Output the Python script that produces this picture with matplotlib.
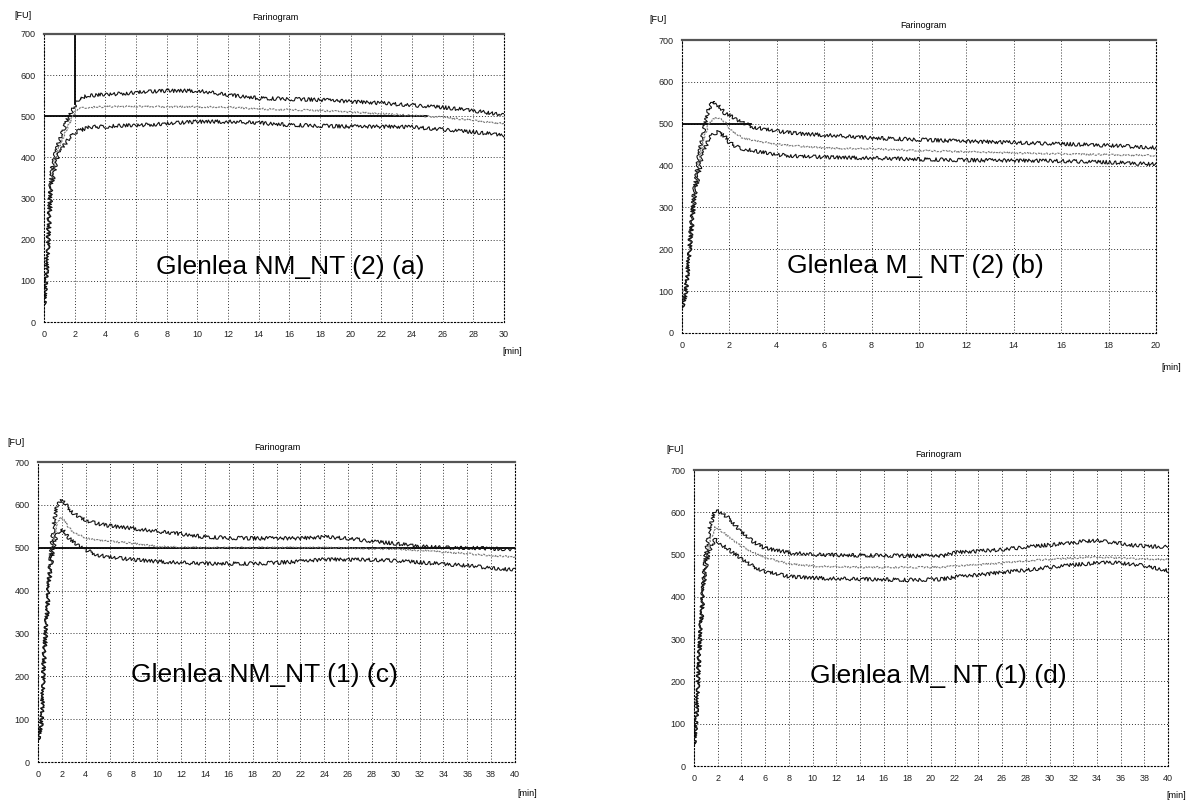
import matplotlib
matplotlib.use("Agg")
import matplotlib.pyplot as plt

# ---------------- data ----------------
# Panel (a) Glenlea NM_NT (2)
t_a = [0, 0.2, 0.35, 0.5, 0.75, 1, 1.5, 2, 2.3, 3, 4, 5, 6, 8, 10, 12, 14, 16, 18, 20, 22, 24, 26, 28, 30]
up_a = [40, 150, 280, 370, 410, 440, 490, 525, 545, 550, 553, 555, 558, 562, 562, 552, 544, 542, 540, 536, 532, 527, 522, 514, 502]
mid_a = [40, 140, 260, 350, 395, 425, 470, 510, 520, 522, 523, 524, 524, 523, 523, 522, 518, 516, 514, 510, 506, 502, 498, 490, 482]
low_a = [40, 130, 240, 330, 380, 410, 440, 460, 465, 474, 475, 477, 478, 482, 487, 487, 484, 479, 477, 475, 475, 474, 468, 462, 454]

# Panel (b) Glenlea M_ NT (2)
t_b = [0, 0.15, 0.3, 0.5, 0.7, 0.9, 1.1, 1.3, 1.5, 1.8, 2, 2.3, 2.6, 3, 4, 5, 6, 8, 10, 12, 14, 16, 18, 20]
up_b = [60, 100, 200, 330, 420, 480, 530, 555, 545, 525, 520, 510, 502, 492, 482, 476, 473, 466, 462, 458, 455, 452, 448, 443]
mid_b = [60, 95, 190, 310, 400, 460, 495, 510, 515, 505, 490, 475, 465, 460, 451, 446, 442, 440, 436, 433, 430, 428, 426, 424]
low_b = [60, 90, 180, 300, 380, 430, 460, 475, 480, 470, 455, 445, 440, 435, 426, 422, 420, 418, 415, 413, 412, 411, 408, 403]

# Panel (c) Glenlea NM_NT (1)
t_c = [0, 0.3, 0.5, 0.7, 0.9, 1.1, 1.3, 1.6, 2, 2.5, 3, 4, 5, 6, 8, 10, 12, 14, 16, 18, 20, 22, 24, 26, 28, 30, 32, 34, 36, 38, 40]
up_c = [50, 100, 250, 330, 420, 490, 550, 600, 612, 595, 580, 563, 556, 551, 545, 538, 532, 525, 523, 522, 522, 522, 525, 522, 515, 510, 503, 500, 500, 498, 496]
mid_c = [50, 95, 240, 320, 410, 470, 520, 560, 571, 550, 535, 523, 518, 515, 510, 503, 501, 500, 500, 500, 500, 500, 500, 499, 498, 497, 494, 490, 486, 482, 478]
low_c = [50, 90, 230, 310, 400, 460, 500, 535, 544, 525, 512, 495, 483, 478, 472, 468, 465, 463, 463, 463, 465, 468, 473, 472, 472, 470, 466, 462, 458, 453, 448]

# Panel (d) Glenlea M_ NT (1)
t_d = [0, 0.2, 0.4, 0.6, 0.8, 1.0, 1.3, 1.8, 2.5, 3, 4, 5, 6, 8, 10, 12, 14, 16, 18, 20, 21, 22, 24, 26, 28, 30, 32, 33, 34, 35, 36, 37, 38, 40]
up_d = [50, 120, 250, 350, 440, 500, 560, 605, 595, 585, 553, 530, 515, 505, 500, 499, 498, 498, 497, 497, 497, 505, 508, 512, 518, 523, 528, 532, 532, 530, 527, 522, 520, 518]
mid_d = [50, 115, 240, 340, 420, 480, 530, 565, 552, 540, 520, 505, 493, 478, 473, 471, 470, 470, 470, 470, 470, 473, 476, 480, 485, 489, 492, 493, 494, 493, 492, 490, 490, 488]
low_d = [50, 110, 230, 330, 410, 470, 510, 537, 520, 510, 490, 472, 460, 448, 445, 443, 442, 441, 440, 441, 442, 447, 452, 458, 463, 470, 476, 478, 480, 482, 480, 476, 474, 462]

labels = ["Glenlea NM_NT (2) (a)", "Glenlea M_ NT (2) (b)",
          "Glenlea NM_NT (1) (c)", "Glenlea M_ NT (1) (d)"]
xmax = [30, 20, 40, 40]
y_ticks = [0, 100, 200, 300, 400, 500, 600, 700]

W, H = 1191, 802
fig = plt.figure(figsize=(W / 100, H / 100), dpi=100)
plt.rcParams['font.family'] = ['Liberation Sans', 'DejaVu Sans']

# pixel boxes: (x0, x1, y_top(700), y_bottom(0))
boxes = [(44, 504, 34, 322), (682, 1156, 40, 333),
         (38, 515, 462, 762), (694, 1168, 470, 766)]
title_pos = [(275, 18), (923, 25), (277, 448), (938, 454)]
fu_pos = [(23, 15), (658, 20), (16, 443), (675, 450)]
min_pos = [(512, 351), (1171, 367), (527, 793), (1176, 796)]
label_pos = [(290, 267), (915, 266), (264, 675), (938, 676)]
ref500 = [(0, 25), (0, 2.9), (0, 40), None]

data = [(t_a, up_a, mid_a, low_a), (t_b, up_b, mid_b, low_b),
        (t_c, up_c, mid_c, low_c), (t_d, up_d, mid_d, low_d)]


def fx(px):
    return px / W


def fy(py):
    return 1 - py / H


for i in range(4):
    x0, x1, yt, yb = boxes[i]
    ax = fig.add_axes([fx(x0), fy(yb), fx(x1 - x0), (yb - yt) / H])
    t, up, mid, low = data[i]
    ax.set_xlim(0, xmax[i])
    ax.set_ylim(0, 700)
    ax.set_xticks(range(0, xmax[i] + 1, 2))
    ax.set_yticks(y_ticks)
    ax.tick_params(length=0, labelsize=6.5, pad=6, colors='#222222')
    ax.grid(True, ls=(0, (1, 2)), color='#333333', lw=0.7)
    for s in ['left', 'right', 'bottom']:
        ax.spines[s].set_linestyle((0, (1, 2)))
        ax.spines[s].set_linewidth(0.8)
    ax.spines['top'].set_linewidth(1.6)
    ax.spines['top'].set_color('#555555')
    r = ref500[i]
    if r is not None:
        ax.plot(r, [500, 500], color='black', lw=1.3)
    if i == 0:
        ax.plot([2, 2], [530, 700], color='black', lw=1.3)
    lu, = ax.plot(t, up, color='#111111', lw=0.8)
    lm, = ax.plot(t, mid, color='#777777', lw=0.8, ls=(0, (2, 1)))
    ll, = ax.plot(t, low, color='#111111', lw=0.8)
    for ln in (lu, ll):
        ln.set_sketch_params(scale=1.8, length=3, randomness=6)
    lm.set_sketch_params(scale=0.8, length=3, randomness=6)

    fig.text(fx(title_pos[i][0]), fy(title_pos[i][1]), "Farinogram",
             ha='center', va='center', fontsize=6.5)
    fig.text(fx(fu_pos[i][0]), fy(fu_pos[i][1]), "[FU]",
             ha='center', va='center', fontsize=6.5)
    fig.text(fx(min_pos[i][0]), fy(min_pos[i][1]), "[min]",
             ha='center', va='center', fontsize=6.5)
    fig.text(fx(label_pos[i][0]), fy(label_pos[i][1]), labels[i],
             ha='center', va='center', fontsize=19)

fig.savefig("out.png", dpi=100)
